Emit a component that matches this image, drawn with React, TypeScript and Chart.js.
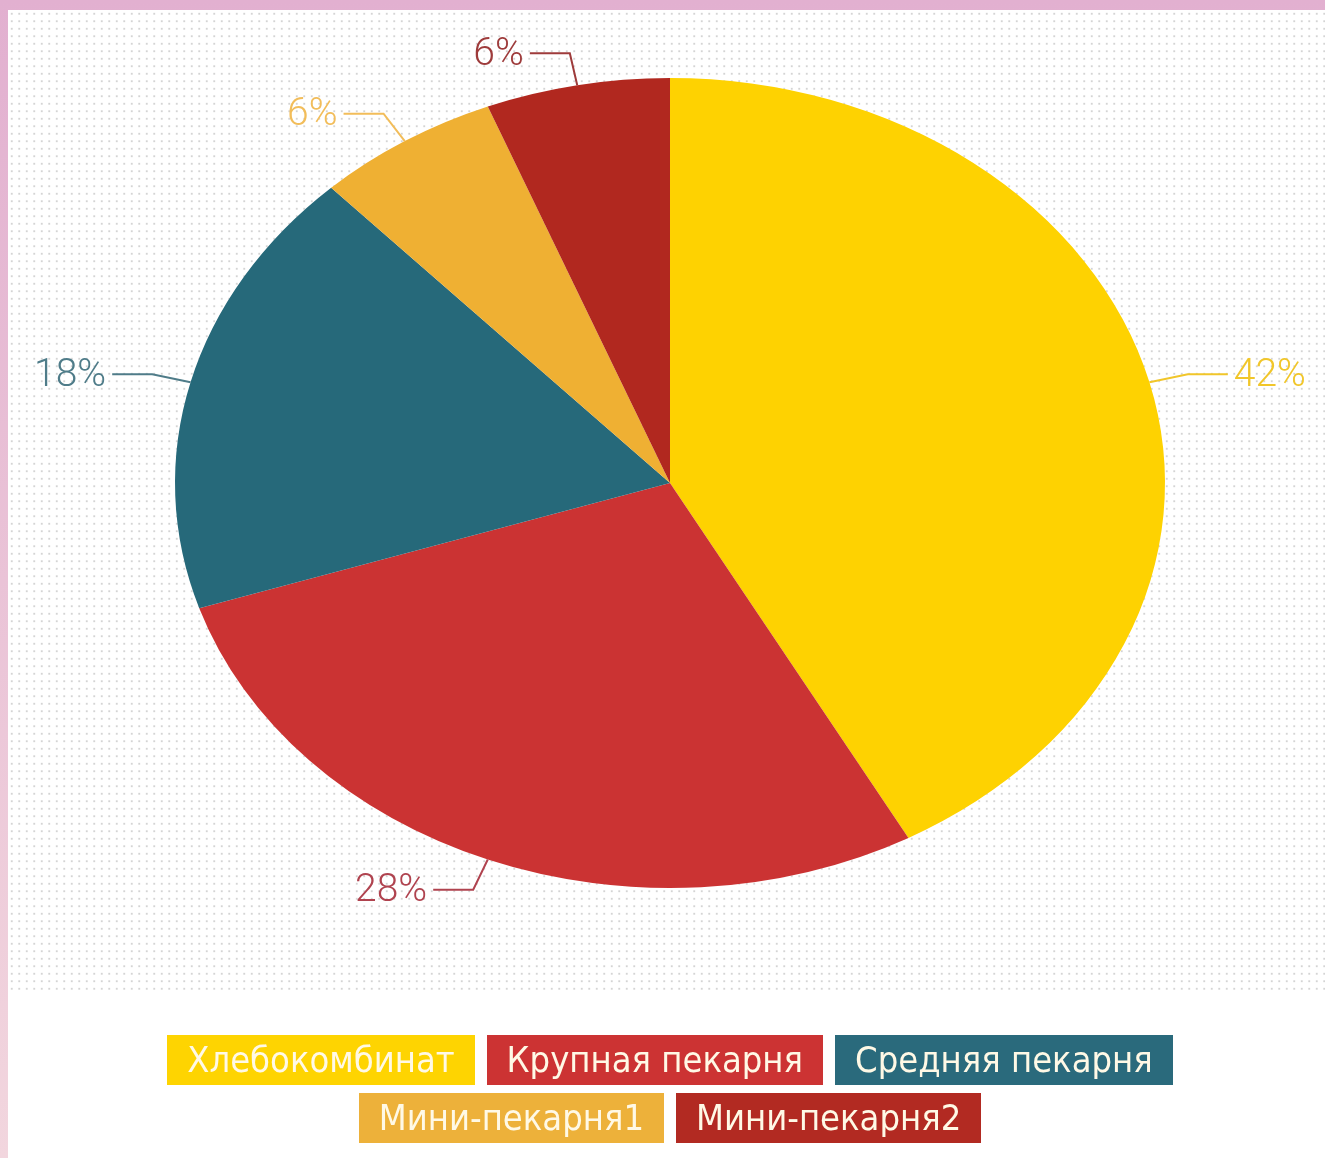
import React, { useEffect, useRef } from "react";
import { Chart, registerables } from "chart.js";

Chart.register(...registerables);

const categories = ["Хлебокомбинат", "Крупная пекарня", "Средняя пекарня", "Мини-пекарня1", "Мини-пекарня2"];
const shares = [42, 28, 18, 6, 6];
const sliceColors = ["#FED201", "#CB3333", "#26697A", "#EFB033", "#B1281F"];
const labelColors = ["#F1C62A", "#B0434F", "#4F7C89", "#F2BD5A", "#9E3B3B"];
const legendColors = ["#FED401", "#CC3333", "#2A6A7C", "#EDB13A", "#B22A22"];
const legendRows = [[0, 1, 2], [3, 4]];

const W = 1325;
const H = 1158;
const CX = 670;
const CY = 483;
const RY = 405;
const RX = 495;
const SX = RX / RY;
const ELBOW = 1.08;
const ARM = 40;

const ellipsePlugin = {
  id: "ellipseLabels",
  beforeDatasetsDraw(chart: any) {
    const ctx = chart.ctx;
    const arc = chart.getDatasetMeta(0).data[0];
    const cx = arc.x;
    ctx.save();
    ctx.translate(cx, 0);
    ctx.scale(SX, 1);
    ctx.translate(-cx, 0);
  },
  afterDatasetsDraw(chart: any) {
    const ctx = chart.ctx;
    ctx.restore();
    const meta = chart.getDatasetMeta(0);
    const values = chart.data.datasets[0].data as number[];
    meta.data.forEach((el: any, i: number) => {
      const { x, y, startAngle, endAngle, outerRadius } = el.getProps(
        ["x", "y", "startAngle", "endAngle", "outerRadius"],
        true
      );
      const mid = (startAngle + endAngle) / 2;
      const c = Math.cos(mid);
      const s = Math.sin(mid);
      const ex = x + c * outerRadius * SX;
      const ey = y + s * outerRadius;
      const kx = x + c * outerRadius * ELBOW * SX;
      const ky = y + s * outerRadius * ELBOW;
      const dir = c >= 0 ? 1 : -1;
      const hx = kx + dir * ARM;
      ctx.save();
      ctx.strokeStyle = labelColors[i];
      ctx.lineWidth = 2;
      ctx.beginPath();
      ctx.moveTo(ex, ey);
      ctx.lineTo(kx, ky);
      ctx.lineTo(hx, ky);
      ctx.stroke();
      ctx.fillStyle = labelColors[i];
      ctx.font = "300 39px Roboto, 'DejaVu Sans', sans-serif";
      ctx.textBaseline = "middle";
      ctx.textAlign = dir > 0 ? "left" : "right";
      ctx.fillText(values[i] + "%", hx + dir * 6, ky + 2);
      ctx.restore();
    });
  },
};

export default function App() {
  const ref = useRef<HTMLCanvasElement | null>(null);

  useEffect(() => {
    if (!ref.current) return;
    const chart = new Chart(ref.current, {
      type: "pie",
      data: {
        labels: categories,
        datasets: [
          {
            data: shares,
            backgroundColor: sliceColors,
            borderWidth: 0,
          },
        ],
      },
      options: {
        responsive: false,
        animation: false,
        devicePixelRatio: 1,
        layout: {
          padding: {
            left: CX - RY,
            right: W - (CX + RY),
            top: CY - RY,
            bottom: H - (CY + RY),
          },
        },
        plugins: {
          legend: { display: false },
          tooltip: { enabled: false },
        },
      },
      plugins: [ellipsePlugin],
    });
    return () => chart.destroy();
  }, []);

  return (
    <div
      style={{
        position: "fixed",
        left: 0,
        top: 0,
        width: W,
        height: H,
        overflow: "hidden",
        background: "linear-gradient(to bottom, #E2B0D0, #F2D6DE)",
      }}
    >
      <div style={{ position: "absolute", left: 8, top: 10, right: 0, bottom: 0, background: "#FFFFFF" }} />
      <div
        style={{
          position: "absolute",
          left: 8,
          top: 10,
          right: 0,
          height: 985,
          backgroundImage: "radial-gradient(circle, #D4D4D4 0.9px, rgba(255,255,255,0) 1.4px)",
          backgroundSize: "7.5px 7.5px",
        }}
      />
      <canvas ref={ref} width={W} height={H} style={{ position: "absolute", left: 0, top: 0 }} />
      <div
        style={{
          position: "absolute",
          left: 0,
          width: 1340,
          top: 1035,
          display: "flex",
          flexDirection: "column",
          alignItems: "center",
          gap: 8,
        }}
      >
        {legendRows.map((row, r) => (
          <div key={r} style={{ display: "flex", gap: 12 }}>
            {row.map((i) => (
              <div
                key={i}
                style={{
                  background: legendColors[i],
                  color: "#FFF9E6",
                  height: 50,
                  lineHeight: "50px",
                  padding: "0 20px",
                  fontFamily: "'DejaVu Sans Condensed', 'Liberation Sans Narrow', sans-serif",
                  fontStretch: "condensed",
                  fontSize: 36,
                  whiteSpace: "nowrap",
                }}
              >
                {categories[i]}
              </div>
            ))}
          </div>
        ))}
      </div>
    </div>
  );
}
